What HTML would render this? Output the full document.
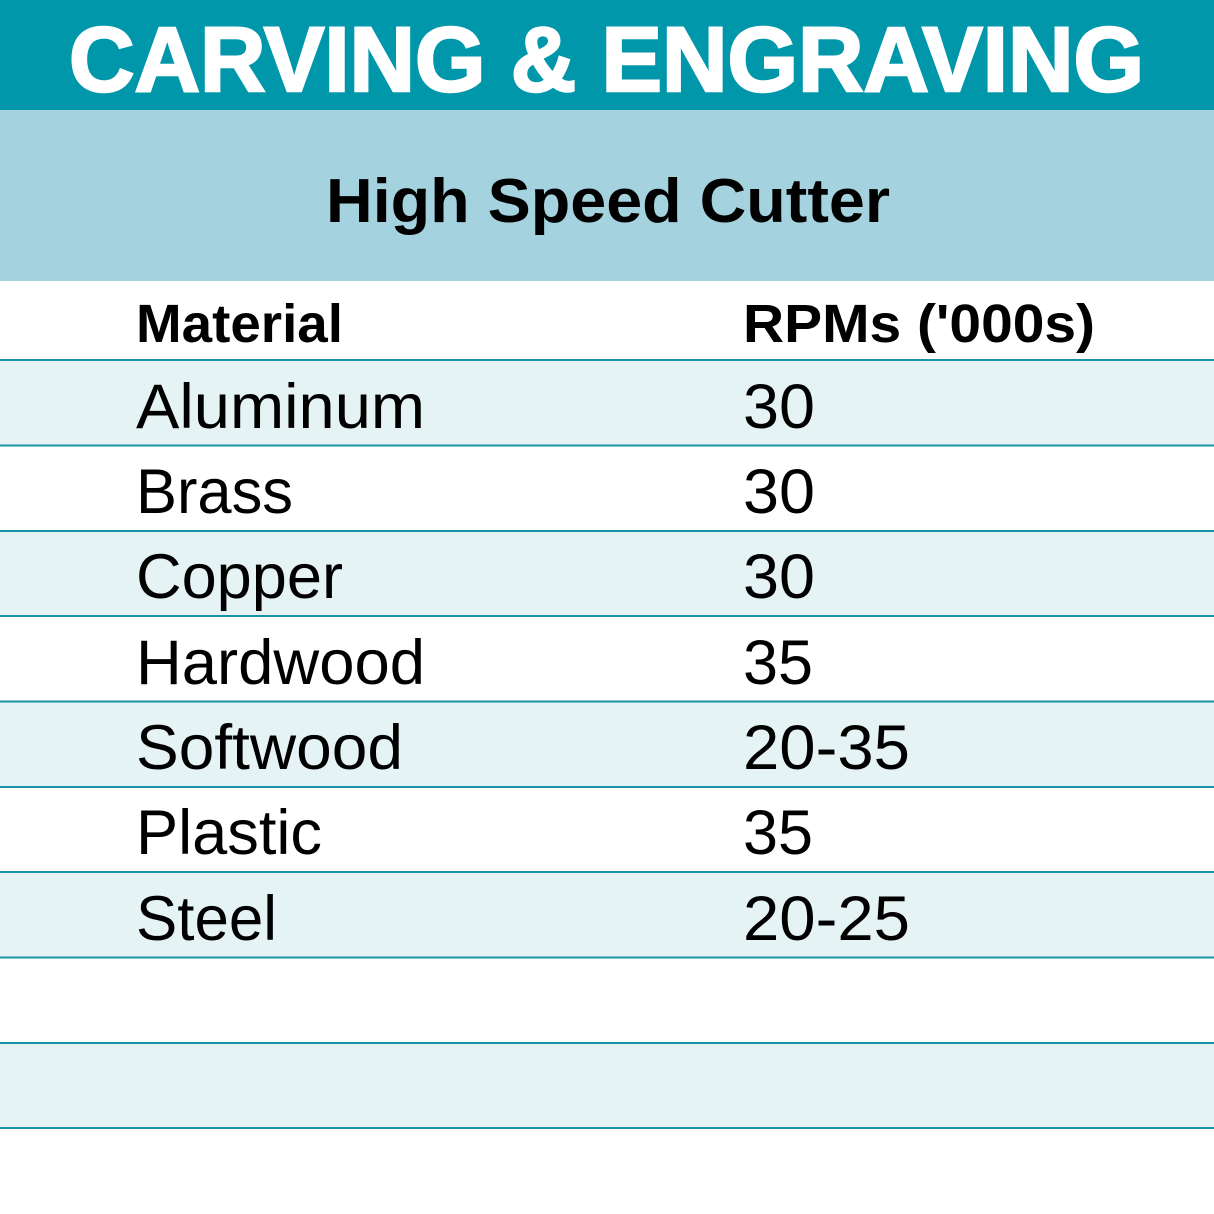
<!DOCTYPE html>
<html>
<head>
<meta charset="utf-8">
<style>
html,body{margin:0;padding:0;background:#fff;}
svg{display:block;}
</style>
</head>
<body>
<svg width="1214" height="1214" viewBox="0 0 1214 1214" xmlns="http://www.w3.org/2000/svg">
  <rect x="0" y="0" width="1214" height="1214" fill="#ffffff"/>
  <rect x="0" y="0" width="1214" height="110" fill="#0097ab"/>
  <rect x="0" y="110" width="1214" height="171" fill="#a4d3df"/>
  <!-- row backgrounds -->
  <rect x="0" y="360" width="1214" height="85" fill="#e6f3f5"/>
  <rect x="0" y="531" width="1214" height="85" fill="#e6f3f5"/>
  <rect x="0" y="701" width="1214" height="85" fill="#e6f3f5"/>
  <rect x="0" y="872" width="1214" height="85" fill="#e6f3f5"/>
  <rect x="0" y="1042" width="1214" height="86" fill="#e6f3f5"/>
  <!-- lines -->
  <g fill="#1a93a6">
    <rect x="0" y="359" width="1214" height="2"/>
    <rect x="0" y="444.5" width="1214" height="2"/>
    <rect x="0" y="530" width="1214" height="2"/>
    <rect x="0" y="615" width="1214" height="2"/>
    <rect x="0" y="700.5" width="1214" height="2"/>
    <rect x="0" y="786" width="1214" height="2"/>
    <rect x="0" y="871" width="1214" height="2"/>
    <rect x="0" y="956.5" width="1214" height="2"/>
    <rect x="0" y="1042" width="1214" height="2"/>
    <rect x="0" y="1127" width="1214" height="2"/>
  </g>
  <text x="69" y="91" font-family="Liberation Sans, sans-serif" font-weight="bold" font-size="92" fill="#ffffff" stroke="#ffffff" stroke-width="2.5" textLength="1075" lengthAdjust="spacingAndGlyphs">CARVING &amp; ENGRAVING</text>
  <text x="326" y="222" font-family="Liberation Sans, sans-serif" font-weight="bold" font-size="62" fill="#000" textLength="564" lengthAdjust="spacingAndGlyphs">High Speed Cutter</text>
  <text x="136" y="342" font-family="Liberation Sans, sans-serif" font-weight="bold" font-size="54" fill="#000" textLength="207" lengthAdjust="spacingAndGlyphs">Material</text>
  <text x="743" y="342" font-family="Liberation Sans, sans-serif" font-weight="bold" font-size="54" fill="#000" textLength="352" lengthAdjust="spacingAndGlyphs">RPMs ('000s)</text>
  <g font-family="Liberation Sans, sans-serif" font-size="63" fill="#000">
    <text x="136" y="428" textLength="289" lengthAdjust="spacingAndGlyphs">Aluminum</text>
    <text x="743" y="428" textLength="72" lengthAdjust="spacingAndGlyphs">30</text>
    <text x="136" y="513" textLength="157" lengthAdjust="spacingAndGlyphs">Brass</text>
    <text x="743" y="513" textLength="72" lengthAdjust="spacingAndGlyphs">30</text>
    <text x="136" y="598" textLength="207" lengthAdjust="spacingAndGlyphs">Copper</text>
    <text x="743" y="598" textLength="72" lengthAdjust="spacingAndGlyphs">30</text>
    <text x="136" y="684" textLength="289" lengthAdjust="spacingAndGlyphs">Hardwood</text>
    <text x="743" y="684" textLength="70" lengthAdjust="spacingAndGlyphs">35</text>
    <text x="136" y="769" textLength="267" lengthAdjust="spacingAndGlyphs">Softwood</text>
    <text x="743" y="769" textLength="167" lengthAdjust="spacingAndGlyphs">20-35</text>
    <text x="136" y="854" textLength="186" lengthAdjust="spacingAndGlyphs">Plastic</text>
    <text x="743" y="854" textLength="70" lengthAdjust="spacingAndGlyphs">35</text>
    <text x="136" y="940" textLength="141" lengthAdjust="spacingAndGlyphs">Steel</text>
    <text x="743" y="940" textLength="167" lengthAdjust="spacingAndGlyphs">20-25</text>
  </g>
</svg>
</body>
</html>
